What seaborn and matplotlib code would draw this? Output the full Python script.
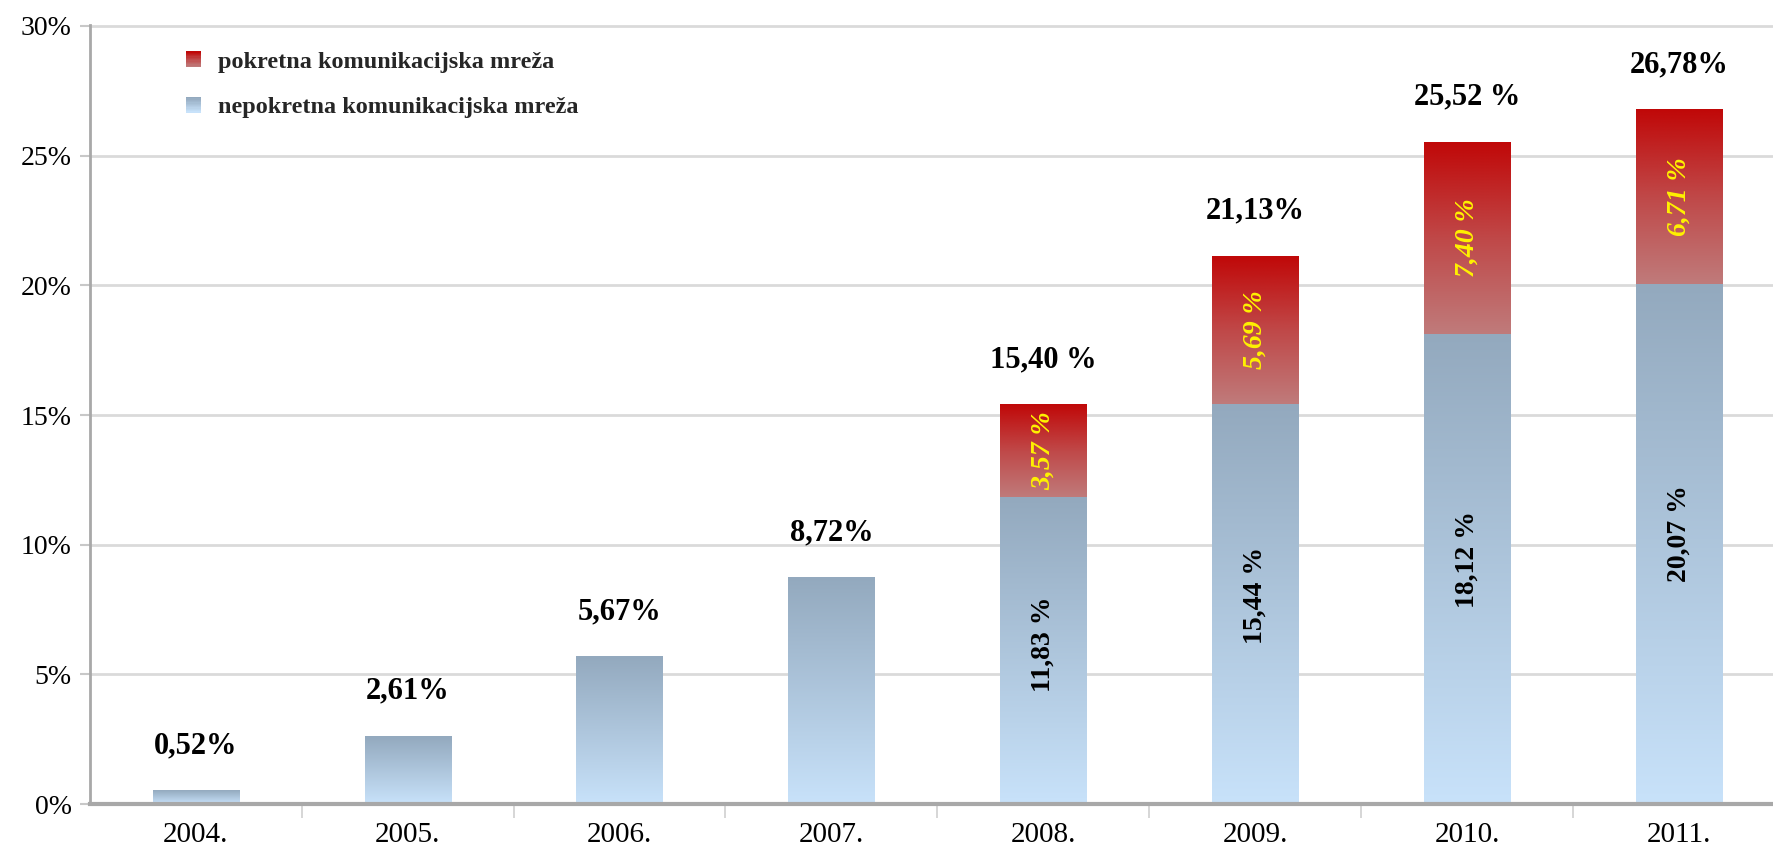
import numpy as np
import pandas as pd
import matplotlib
matplotlib.use('Agg')
import matplotlib.pyplot as plt
import seaborn as sns
from matplotlib.colors import LinearSegmentedColormap
from matplotlib.legend_handler import HandlerBase
from matplotlib.patches import Rectangle

# data
years = ['2004.', '2005.', '2006.', '2007.', '2008.', '2009.', '2010.', '2011.']
fixed = [0.52, 2.61, 5.67, 8.72, 11.83, 15.44, 18.12, 20.07]
mobile = [0, 0, 0, 0, 3.57, 5.69, 7.40, 6.71]
total = [0.52, 2.61, 5.67, 8.72, 15.40, 21.13, 25.52, 26.78]
total_labels = ['0,52%', '2,61%', '5,67%', '8,72%', '15,40 %', '21,13%', '25,52 %', '26,78%']
fixed_labels = ['', '', '', '', '11,83 %', '15,44 %', '18,12 %', '20,07 %']
mobile_labels = ['', '', '', '', '3,57 %', '5,69 %', '7,40 %', '6,71 %']
yticks = [0, 5, 10, 15, 20, 25, 30]
ytick_labels = ['0%', '5%', '10%', '15%', '20%', '25%', '30%']
legend_labels = ['pokretna komunikacijska mreža', 'nepokretna komunikacijska mreža']

df = pd.DataFrame({'year': years, 'fixed': fixed, 'mobile': mobile, 'total': total})

blue_cmap = LinearSegmentedColormap.from_list('blue', ['#c8e2fa', '#93a9be'])
red_cmap = LinearSegmentedColormap.from_list('red', ['#bf7b7b', '#c04848', '#c00808'])
grad = np.linspace(0, 1, 256)[:, None]

sns.set_style('white')
plt.rcParams['font.family'] = ['Liberation Serif', 'DejaVu Serif']

fig = plt.figure(figsize=(17.74, 8.5), dpi=100)
ax = fig.add_axes([0.0507, 0.054, 0.9493, 0.917])

sns.barplot(data=df, x='year', y='total', color='#c00808', width=0.406, errorbar=None, ax=ax)
sns.barplot(data=df, x='year', y='fixed', color='#93a9be', width=0.406, errorbar=None, ax=ax)
red_bars = ax.patches[:len(years)]
blue_bars = ax.patches[len(years):]

# gradient fill per segment
for rb, bb in zip(red_bars, blue_bars):
    x0, w = bb.get_x(), bb.get_width()
    top_f = bb.get_height()
    top_t = rb.get_height()
    ax.imshow(grad, extent=[x0, x0 + w, 0, top_f], origin='lower', aspect='auto',
              cmap=blue_cmap, zorder=2, interpolation='bicubic')
    if top_t - top_f > 0.01:
        ax.imshow(grad, extent=[x0, x0 + w, top_f, top_t], origin='lower', aspect='auto',
                  cmap=red_cmap, zorder=2, interpolation='bicubic')
    rb.set_visible(False)
    bb.set_visible(False)

for i, bb in enumerate(blue_bars):
    xc = bb.get_x() + bb.get_width() / 2
    ax.annotate(total_labels[i], (xc, total[i]), xytext=(0, 22), textcoords='offset points',
                ha='center', va='bottom', fontsize=22, fontweight='bold', color='black', zorder=5)
    if fixed_labels[i]:
        ax.text(xc, fixed[i] * 0.52, fixed_labels[i], rotation=90, ha='center', va='center',
                fontsize=20, fontweight='bold', color='black', zorder=5)
    if mobile_labels[i]:
        ax.text(xc, fixed[i] + mobile[i] / 2, mobile_labels[i], rotation=90, ha='center',
                va='center', fontsize=20, fontweight='bold', fontstyle='italic',
                color='#fff200', zorder=5)

ax.set_xlim(-0.499, 7.448)
ax.set_ylim(0, 30.05)
ax.set_yticks(yticks)
ax.set_yticklabels(ytick_labels)
ax.set_xlabel('')
ax.set_ylabel('')

ax.yaxis.grid(True, color='#dadada', lw=2)
ax.set_axisbelow(True)
for s in ['top', 'right']:
    ax.spines[s].set_visible(False)
ax.spines['left'].set_color('#a8a8a8')
ax.spines['left'].set_linewidth(2)
ax.spines['bottom'].set_color('#a8a8a8')
ax.spines['bottom'].set_linewidth(3)

ax.tick_params(axis='y', which='major', direction='out', length=7, width=1.5,
               color='#c8c8c8', labelsize=20, labelcolor='black', pad=6, left=True)
ax.set_xticks(np.arange(len(years) - 1) + 0.5, minor=True)
ax.tick_params(axis='x', which='minor', direction='out', length=10, width=1.2,
               color='#d0d0d0', bottom=True)
ax.tick_params(axis='x', which='major', length=0, labelsize=21, labelcolor='black', pad=13)


class GradientHandler(HandlerBase):
    def __init__(self, cmap):
        super().__init__()
        self.cmap = cmap

    def create_artists(self, legend, orig_handle, xdescent, ydescent, width, height,
                       fontsize, trans):
        n = 12
        arts = []
        for k in range(n):
            r = Rectangle((-xdescent, -ydescent + height * k / n), width, height / n + 0.3,
                          facecolor=self.cmap(k / (n - 1)), edgecolor='none', transform=trans)
            arts.append(r)
        return arts


h_red = Rectangle((0, 0), 1, 1)
h_blue = Rectangle((0, 0), 1, 1)
ax.legend([h_red, h_blue], legend_labels, loc='upper left', bbox_to_anchor=(0.044, 0.994),
          frameon=False, handlelength=0.62, handleheight=0.62, handletextpad=0.7,
          labelspacing=1.0, prop={'weight': 'bold', 'size': 17.5},
          handler_map={h_red: GradientHandler(red_cmap), h_blue: GradientHandler(blue_cmap)})

fig.savefig('out.png', dpi=100)
